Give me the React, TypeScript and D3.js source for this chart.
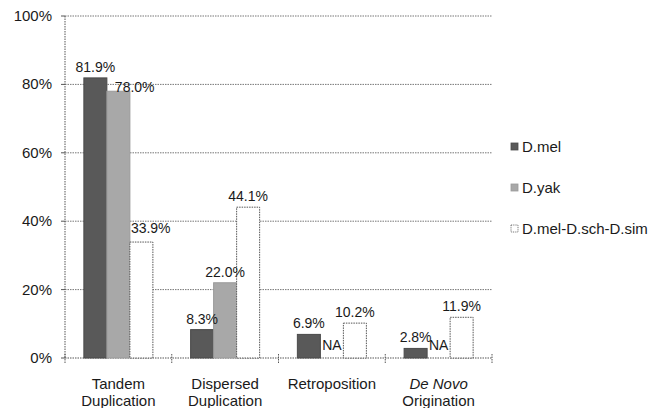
import React from "react";
import * as d3 from "d3";

const categories = ["Tandem Duplication", "Dispersed Duplication", "Retroposition", "De Novo Origination"];
const categoryLines = [["Tandem", "Duplication"], ["Dispersed", "Duplication"], ["Retroposition"], ["De Novo", "Origination"]];
const seriesNames = ["D.mel", "D.yak", "D.mel-D.sch-D.sim"];
const dmel: (number | null)[] = [81.9, 8.3, 6.9, 2.8];
const dyak: (number | null)[] = [78.0, 22.0, null, null];
const dmelschsim: (number | null)[] = [33.9, 44.1, 10.2, 11.9];
const yTicks = [0, 20, 40, 60, 80, 100];

const W = 667, H = 408;
const M = { left: 65, right: 175, top: 16, bottom: 50 };
const FONT = "Arial, 'Liberation Sans', Helvetica, sans-serif";

export default function App() {
  const series = [dmel, dyak, dmelschsim];
  const fills = ["#595959", "#a8a8a8", "#ffffff"];
  const strokes = ["#4a4a4a", "#9a9a9a", "#555555"];
  const x0 = d3.scaleBand<string>().domain(categories).range([M.left, W - M.right]).paddingInner(0).paddingOuter(0);
  const x1 = d3.scaleBand<string>().domain(seriesNames).range([0, x0.bandwidth()]).paddingInner(0).paddingOuter(0.82);
  const y = d3.scaleLinear().domain([0, 100]).range([H - M.bottom, M.top]);
  const bw = x1.bandwidth();

  const labels: { x: number; y: number; t: string; anchor: string }[] = [];
  categories.forEach((c, ci) => {
    series.forEach((s, si) => {
      const v = s[ci];
      const bx = (x0(c) as number) + (x1(seriesNames[si]) as number);
      if (v == null) {
        labels.push({ x: bx + bw / 2, y: y(0) - 8, t: "NA", anchor: "middle" });
        return;
      }
      let lx = bx + bw / 2;
      let anchor = "middle";
      let ly = y(v) - 6;
      // avoid overlap with taller neighbouring bar on the left
      if (si > 0) {
        const pv = series[si - 1][ci];
        if (pv != null && y(pv) < ly) {
          const close = y(v) - y(pv) < 20;
          lx = bx + (close ? 8 : 1);
          anchor = "start";
          ly = close ? y(v) + 1 : y(v) - 9;
        }
      }
      labels.push({ x: lx, y: ly, t: v.toFixed(1) + "%", anchor });
    });
  });

  const x0Edges = [...categories.map((c) => x0(c) as number), W - M.right];

  return (
    <svg width={W} height={H} style={{ position: "absolute", left: 0, top: 0, background: "#fff" }} fontFamily={FONT}>
      <rect x={0} y={0} width={W} height={H} fill="#fff" />
      {yTicks.map((t) => (
        <g key={t}>
          {t > 0 && (
            <line x1={M.left} x2={W - M.right} y1={y(t)} y2={y(t)} stroke="#777" strokeWidth={1} strokeDasharray="1.5,1" />
          )}
          <line x1={M.left - 4} x2={M.left} y1={y(t)} y2={y(t)} stroke="#555" strokeWidth={1} />
          <text x={52} y={y(t) + 5} textAnchor="end" fontSize={15} fill="#1a1a1a">{t}%</text>
        </g>
      ))}
      <line x1={M.left} x2={M.left} y1={M.top} y2={y(0)} stroke="#555" strokeWidth={1} strokeDasharray="1.5,1" />
      <line x1={M.left} x2={W - M.right} y1={y(0)} y2={y(0)} stroke="#555" strokeWidth={1} strokeDasharray="1.5,1" />
      {x0Edges.map((e, i) => (
        <line key={i} x1={e} x2={e} y1={y(0) - 4} y2={y(0) + 5} stroke="#555" strokeWidth={1} strokeDasharray="1.5,1" />
      ))}
      {categories.map((c, ci) => (
        <g key={c}>
          {series.map((s, si) => {
            const v = s[ci];
            if (v == null) return null;
            const bx = (x0(c) as number) + (x1(seriesNames[si]) as number);
            return (
              <rect key={si} x={bx} y={y(v)} width={bw} height={y(0) - y(v)} fill={fills[si]} stroke={strokes[si]}
                strokeWidth={1} strokeDasharray={si === 2 ? "1.5,1" : undefined} />
            );
          })}
        </g>
      ))}
      {labels.map((l, i) => (
        <text key={i} x={l.x} y={l.y} textAnchor={l.anchor as any} fontSize={14} fill="#1a1a1a">{l.t}</text>
      ))}
      {categories.map((c, ci) => (
        <text key={c} x={(x0(c) as number) + x0.bandwidth() / 2} y={389} textAnchor="middle" fontSize={15} fill="#1a1a1a">
          {categoryLines[ci].map((ln, li) => (
            <tspan key={li} x={(x0(c) as number) + x0.bandwidth() / 2} dy={li === 0 ? 0 : 17} fontStyle={ci === 3 && li === 0 ? "italic" : "normal"}>{ln}</tspan>
          ))}
        </text>
      ))}
      {seriesNames.map((n, i) => (
        <g key={n} transform={`translate(511, ${147 + i * 41})`}>
          <rect x={0} y={-4} width={7} height={7} fill={fills[i]} stroke={strokes[i]} strokeWidth={0.8} strokeDasharray={i === 2 ? "1,0.8" : undefined} />
          <text x={11} y={5} fontSize={15} fill="#1a1a1a">{n}</text>
        </g>
      ))}
    </svg>
  );
}
